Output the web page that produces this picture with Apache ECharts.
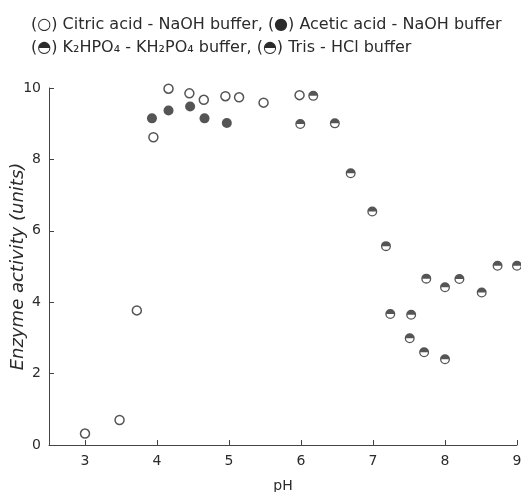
<html>
<head>
<meta charset="UTF-8" />
<script src="https://cdn.jsdelivr.net/npm/echarts@6/dist/echarts.min.js"></script>
</head>
<style type="text/css">
    *{
        margin: 0;
        padding: 0;
    }
    body{
        background: #fff;
    }
    #chart{
        width: 521px;
        height: 492px;
    }
</style>
<body>
<div id="chart"></div>
<script type="text/javascript">
    // values (pH, enzyme activity in units)
    var citricPH  = [3.0, 3.48, 3.72, 3.95, 4.16, 4.45, 4.65, 4.95, 5.14, 5.48, 5.98];
    var citricAct = [0.32, 0.7, 3.77, 8.62, 9.98, 9.85, 9.67, 9.77, 9.74, 9.59, 9.8];
    var aceticPH  = [3.93, 4.16, 4.46, 4.66, 4.97];
    var aceticAct = [9.15, 9.37, 9.48, 9.15, 9.02];
    var phosPH    = [5.99, 6.17, 6.47, 6.69, 6.99, 7.18, 7.24, 7.51, 7.71, 8.0];
    var phosAct   = [8.99, 9.78, 9.01, 7.61, 6.54, 5.57, 3.67, 2.99, 2.6, 2.4];
    var trisPH    = [7.53, 7.74, 8.0, 8.2, 8.51, 8.73, 9.0];
    var trisAct   = [3.65, 4.66, 4.42, 4.65, 4.27, 5.02, 5.02];
    var xTicks = [3, 4, 5, 6, 7, 8, 9];

    function pairs(xs, ys) {
        var out = [];
        for (var i = 0; i < xs.length; i++) {
            out.push([xs[i], ys[i]]);
        }
        return out;
    }

    // ring + upper half filled
    var halfDot = 'path://M0,10A10,10,0,1,1,20,10A10,10,0,1,1,0,10Z' +
        'M2.6,10A7.4,7.4,0,1,0,17.4,10A7.4,7.4,0,1,0,2.6,10Z' +
        'M2.6,10A7.4,7.4,0,0,1,17.4,10Z';
    var ink = '#2b2b2b';
    var font = 'DejaVu Sans';

    var myChart = echarts.init(document.getElementById('chart'));
    var option = {
        animation: false,
        backgroundColor: '#fff',
        title: {
            left: 26,
            top: 8,
            text: '(○) Citric acid - NaOH buffer, (●) Acetic acid - NaOH buffer\n' +
                  '(◓) K₂HPO₄ - KH₂PO₄ buffer, (◓) Tris - HCl buffer',
            textStyle: {
                fontFamily: font,
                fontSize: 16,
                fontWeight: 'normal',
                color: ink,
                lineHeight: 23
            }
        },
        grid: {
            left: 49,
            right: 4,
            top: 88,
            bottom: 47,
            outerBoundsMode: 'none'
        },
        xAxis: {
            type: 'value',
            min: 2.5,
            max: 9,
            name: 'pH',
            nameLocation: 'middle',
            nameGap: 34,
            nameMoveOverlap: false,
            nameTextStyle: { fontFamily: font, fontSize: 14, color: ink },
            splitLine: { show: false },
            axisLine: { lineStyle: { color: '#444', width: 1 } },
            axisTick: { inside: true, length: 5, customValues: xTicks, lineStyle: { color: '#444' } },
            axisLabel: { customValues: xTicks, margin: 9, fontFamily: font, fontSize: 14, color: ink }
        },
        yAxis: {
            type: 'value',
            min: 0,
            max: 10,
            interval: 2,
            name: 'Enzyme activity (units)',
            nameLocation: 'middle',
            nameGap: 22,
            nameRotate: 90,
            nameMoveOverlap: false,
            nameTextStyle: { fontFamily: font, fontSize: 18, fontStyle: 'italic', color: ink },
            splitLine: { show: false },
            axisLine: { lineStyle: { color: '#444', width: 1 } },
            axisTick: { inside: true, length: 5, lineStyle: { color: '#444' } },
            axisLabel: { margin: 8, fontFamily: font, fontSize: 14, color: ink }
        },
        series: [{
            name: 'Citric acid - NaOH buffer',
            type: 'scatter',
            clip: false,
            symbol: 'circle',
            symbolSize: 9,
            itemStyle: { color: '#fff', borderColor: ink, borderWidth: 1.5 },
            data: pairs(citricPH, citricAct)
        }, {
            name: 'Acetic acid - NaOH buffer',
            type: 'scatter',
            clip: false,
            symbol: 'circle',
            symbolSize: 10,
            itemStyle: { color: ink },
            data: pairs(aceticPH, aceticAct)
        }, {
            name: 'K2HPO4 - KH2PO4 buffer',
            type: 'scatter',
            clip: false,
            symbol: halfDot,
            symbolSize: 10,
            itemStyle: { color: ink },
            data: pairs(phosPH, phosAct)
        }, {
            name: 'Tris - HCl buffer',
            type: 'scatter',
            clip: false,
            symbol: halfDot,
            symbolSize: 10,
            itemStyle: { color: ink },
            data: pairs(trisPH, trisAct)
        }]
    };
    myChart.setOption(option);
</script>
</body>
</html>
